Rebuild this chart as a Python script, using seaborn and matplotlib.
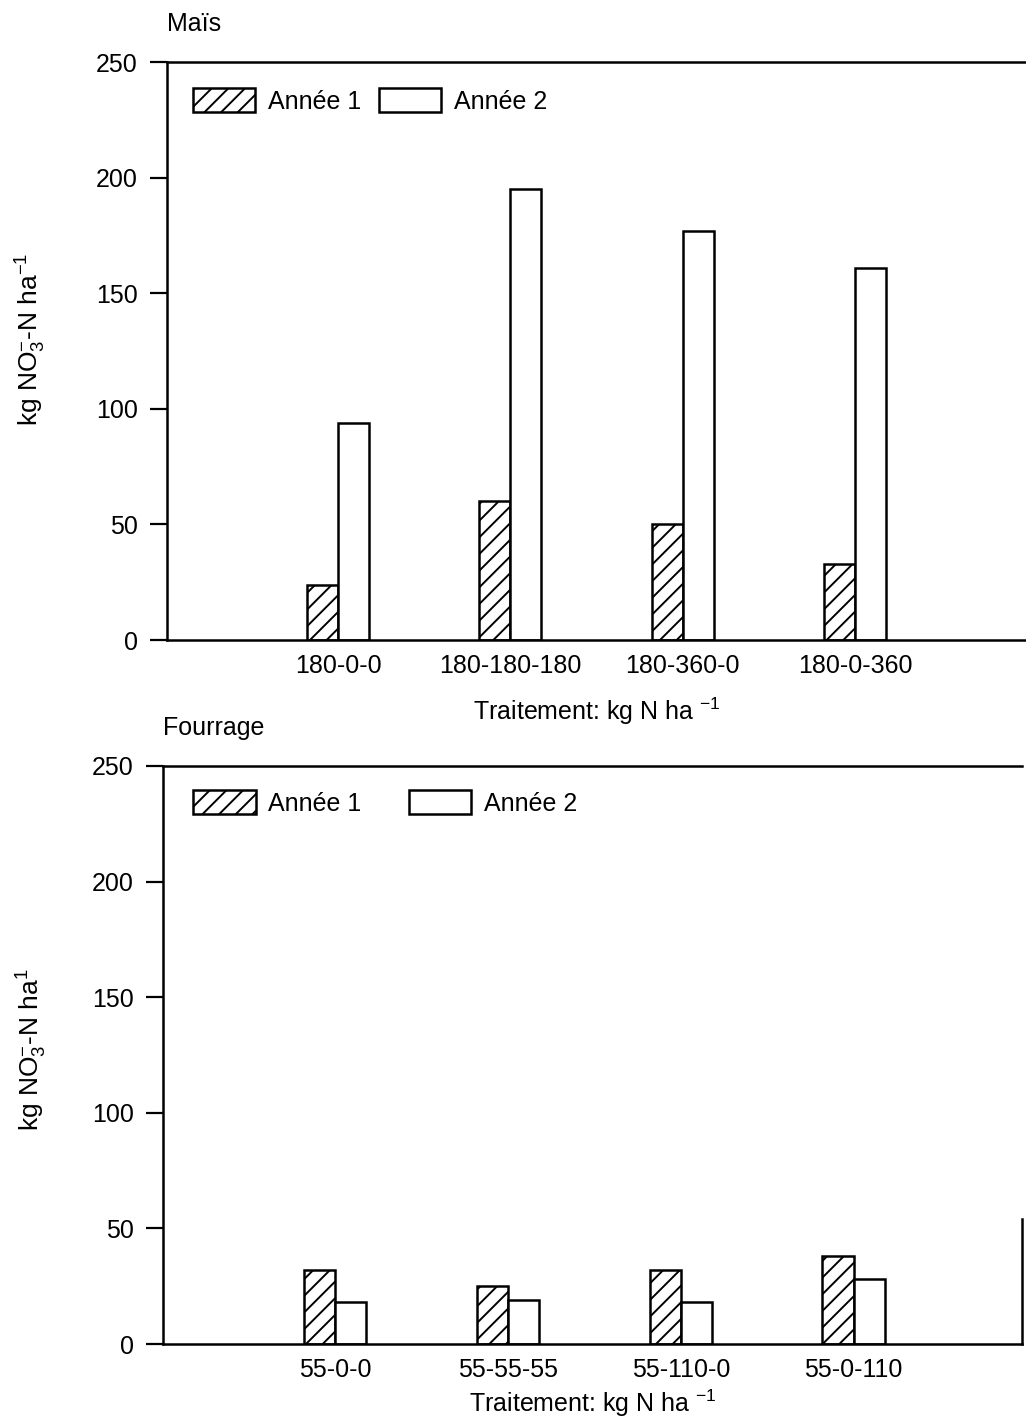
import pandas as pd
import numpy as np

import matplotlib
matplotlib.use("Agg")
import matplotlib.pyplot as plt
import seaborn as sns
from matplotlib.patches import Patch

# donnees
annees = ["Année 1", "Année 2"]

mais_traitements = ["180-0-0", "180-180-180", "180-360-0", "180-0-360"]
mais_annee1 = [24, 60, 50, 33]
mais_annee2 = [94, 195, 177, 161]

fourrage_traitements = ["55-0-0", "55-55-55", "55-110-0", "55-0-110"]
fourrage_annee1 = [32, 25, 32, 38]
fourrage_annee2 = [18, 19, 18, 28]

yticks = [0, 50, 100, 150, 200, 250]


def to_df(traitements, an1, an2):
    return pd.DataFrame({
        "traitement": traitements * 2,
        "annee": [annees[0]] * len(traitements) + [annees[1]] * len(traitements),
        "valeur": an1 + an2,
    })


sns.set_style("ticks")
plt.rcParams["font.family"] = ["Liberation Sans", "DejaVu Sans"]
plt.rcParams["hatch.linewidth"] = 1.4
plt.rcParams["mathtext.fontset"] = "custom"
plt.rcParams["mathtext.rm"] = "Liberation Sans"
plt.rcParams["mathtext.it"] = "Liberation Sans"
for k in ["text.color", "axes.labelcolor", "xtick.color", "ytick.color", "axes.edgecolor"]:
    plt.rcParams[k] = "black"

fig = plt.figure(figsize=(10.26, 14.24), dpi=100)

# positions des axes (fraction de la figure)
ax1 = fig.add_axes([167 / 1026, 1 - 640 / 1424, 859 / 1026, 578 / 1424])
ax2 = fig.add_axes([163 / 1026, 1 - 1344 / 1424, 859 / 1026, 578 / 1424])

panels = [
    (ax1, to_df(mais_traitements, mais_annee1, mais_annee2), mais_traitements,
     "Maïs", r"kg NO$_3^{-}$-N ha$^{-1}$", (-0.992, 3.993), (0.030, 0.955), 0.7, (-0.138, 0.52), 13),
    (ax2, to_df(fourrage_traitements, fourrage_annee1, fourrage_annee2), fourrage_traitements,
     "Fourrage", r"kg NO$_3^{-}$-N ha$^{1}$", (-0.998, 3.975), (0.035, 0.958), 1.9, (-0.133, 0.51), 4),
]

for ax, df, order, titre, ylab, xlim, leg_pos, colsp, ylab_pos, xpad in panels:
    sns.barplot(
        data=df, x="traitement", y="valeur", hue="annee",
        order=order, hue_order=annees,
        width=0.36, palette=["white", "white"],
        edgecolor="black", linewidth=1.8,
        legend=False, ax=ax,
    )
    # hachures pour l'annee 1
    for p in ax.containers[0].patches:
        p.set_hatch("//")

    ax.set_ylim(0, 250)
    ax.set_xlim(*xlim)
    ax.set_yticks(yticks)
    ax.tick_params(axis="y", direction="out", length=12, width=1.6,
                   labelsize=18, pad=9)
    ax.tick_params(axis="x", length=0, labelsize=18, pad=10)

    for s in ["left", "top", "bottom"]:
        ax.spines[s].set_linewidth(1.8)
        ax.spines[s].set_visible(True)
    ax.spines["right"].set_visible(False)

    ax.set_title(titre, loc="left", fontsize=18, pad=22)
    ax.set_xlabel(r"Traitement: kg N ha $^{-1}$", fontsize=18, labelpad=xpad)
    ax.set_ylabel(ylab, fontsize=19)
    ax.yaxis.set_label_coords(*ylab_pos)

    handles = [
        Patch(facecolor="white", edgecolor="black", hatch="//", linewidth=1.8, label=annees[0]),
        Patch(facecolor="white", edgecolor="black", linewidth=1.8, label=annees[1]),
    ]
    ax.legend(handles=handles, loc="upper left", bbox_to_anchor=leg_pos,
              ncol=2, frameon=False, fontsize=18, borderpad=0, borderaxespad=0,
              handlelength=2.5, handleheight=1.1, handletextpad=0.5,
              columnspacing=colsp)

# petit trait vertical a droite du panneau du bas
ax2.spines["right"].set_visible(True)
ax2.spines["right"].set_linewidth(1.8)
ax2.spines["right"].set_bounds(0, 54)

fig.savefig("out.png", dpi=100)
